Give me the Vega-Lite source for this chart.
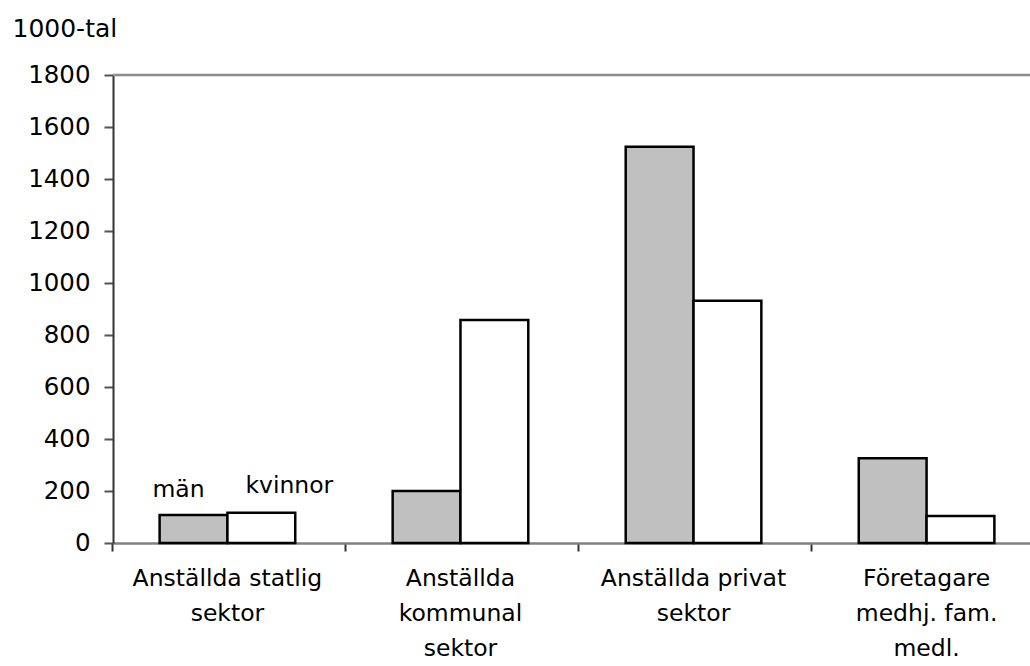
{
  "$schema": "https://vega.github.io/schema/vega-lite/v6.json",
  "autosize": {"type": "none"},
  "padding": {"left": 113, "top": 75, "right": 0, "bottom": 123},
  "width": 928,
  "height": 468,
  "background": "white",
  "config": {"font": "DejaVu Sans", "view": {"stroke": null}},
  "data": {
    "values": [
      {"sektor": "Anställda statlig sektor", "kön": "män", "antal": 108},
      {"sektor": "Anställda statlig sektor", "kön": "kvinnor", "antal": 116},
      {"sektor": "Anställda kommunal sektor", "kön": "män", "antal": 200},
      {"sektor": "Anställda kommunal sektor", "kön": "kvinnor", "antal": 858},
      {"sektor": "Anställda privat sektor", "kön": "män", "antal": 1524},
      {"sektor": "Anställda privat sektor", "kön": "kvinnor", "antal": 932},
      {"sektor": "Företagare medhj. fam. medl.", "kön": "män", "antal": 326},
      {"sektor": "Företagare medhj. fam. medl.", "kön": "kvinnor", "antal": 104}
    ]
  },
  "resolve": {"axis": {"x": "independent"}},
  "layer": [
    {
      "mark": {"type": "bar", "stroke": "black", "strokeWidth": 2.5},
      "encoding": {
        "x": {
          "field": "sektor", "type": "nominal",
          "sort": ["Anställda statlig sektor", "Anställda kommunal sektor", "Anställda privat sektor", "Företagare medhj. fam. medl."],
          "scale": {"paddingInner": 0.418, "paddingOuter": 0.2},
          "axis": {
            "orient": "bottom", "title": null, "ticks": false, "domain": false,
            "labelAngle": 0, "labelFontSize": 23.5, "labelColor": "black",
            "labelLineHeight": 35, "labelPadding": 23, "labelBaseline": "top",
            "labelLimit": 300,
            "labelExpr": "datum.value == 'Anställda statlig sektor' ? ['Anställda statlig', 'sektor'] : datum.value == 'Anställda kommunal sektor' ? ['Anställda', 'kommunal', 'sektor'] : datum.value == 'Anställda privat sektor' ? ['Anställda privat', 'sektor'] : ['Företagare', 'medhj. fam.', 'medl.']"
          }
        },
        "xOffset": {"field": "kön", "sort": ["män", "kvinnor"]},
        "y": {
          "field": "antal", "type": "quantitative",
          "scale": {"domain": [0, 1800], "nice": false},
          "axis": {
            "values": [0, 200, 400, 600, 800, 1000, 1200, 1400, 1600, 1800],
            "format": "d",
            "grid": false, "domainColor": "#333333", "domainWidth": 2,
            "tickColor": "#555555", "tickWidth": 2, "tickSize": 9,
            "labelFontSize": 24.5, "labelColor": "black", "labelPadding": 14,
            "title": "1000-tal", "titleAngle": 0, "titleX": -101, "titleY": -47,
            "titleAlign": "left", "titleBaseline": "middle",
            "titleFontSize": 25, "titleFontWeight": "normal", "titleColor": "black"
          }
        },
        "fill": {
          "field": "kön",
          "scale": {"domain": ["män", "kvinnor"], "range": ["#c0c0c0", "#ffffff"]},
          "legend": null
        }
      }
    },
    {
      "transform": [{"filter": "datum.sektor == 'Anställda statlig sektor' && datum['kön'] == 'män'"}],
      "mark": {"type": "text", "dy": -18, "dx": -15, "fontSize": 23.5, "baseline": "alphabetic", "color": "black"},
      "encoding": {
        "x": {
          "field": "sektor", "type": "nominal",
          "sort": ["Anställda statlig sektor", "Anställda kommunal sektor", "Anställda privat sektor", "Företagare medhj. fam. medl."],
          "axis": {
            "orient": "bottom", "title": null, "labels": false, "bandPosition": -0.345,
            "ticks": true, "tickSize": 8, "tickColor": "#333333", "tickWidth": 2,
            "domain": true, "domainColor": "#808080", "domainWidth": 2.5
          }
        },
        "xOffset": {"field": "kön", "sort": ["män", "kvinnor"]},
        "y": {"field": "antal", "type": "quantitative"},
        "text": {"field": "kön"}
      }
    },
    {
      "transform": [{"filter": "datum.sektor == 'Anställda statlig sektor' && datum['kön'] == 'kvinnor'"}],
      "mark": {"type": "text", "dy": -20, "dx": 28, "fontSize": 23.5, "baseline": "alphabetic", "color": "black"},
      "encoding": {
        "x": {
          "field": "sektor", "type": "nominal",
          "sort": ["Anställda statlig sektor", "Anställda kommunal sektor", "Anställda privat sektor", "Företagare medhj. fam. medl."],
          "axis": null
        },
        "xOffset": {"field": "kön", "sort": ["män", "kvinnor"]},
        "y": {"field": "antal", "type": "quantitative"},
        "text": {"field": "kön"}
      }
    },
    {
      "data": {"values": [{"v": 1800}]},
      "mark": {"type": "rule", "color": "#8c8c8c", "strokeWidth": 2.5},
      "encoding": {"y": {"field": "v", "type": "quantitative"}}
    }
  ]
}
